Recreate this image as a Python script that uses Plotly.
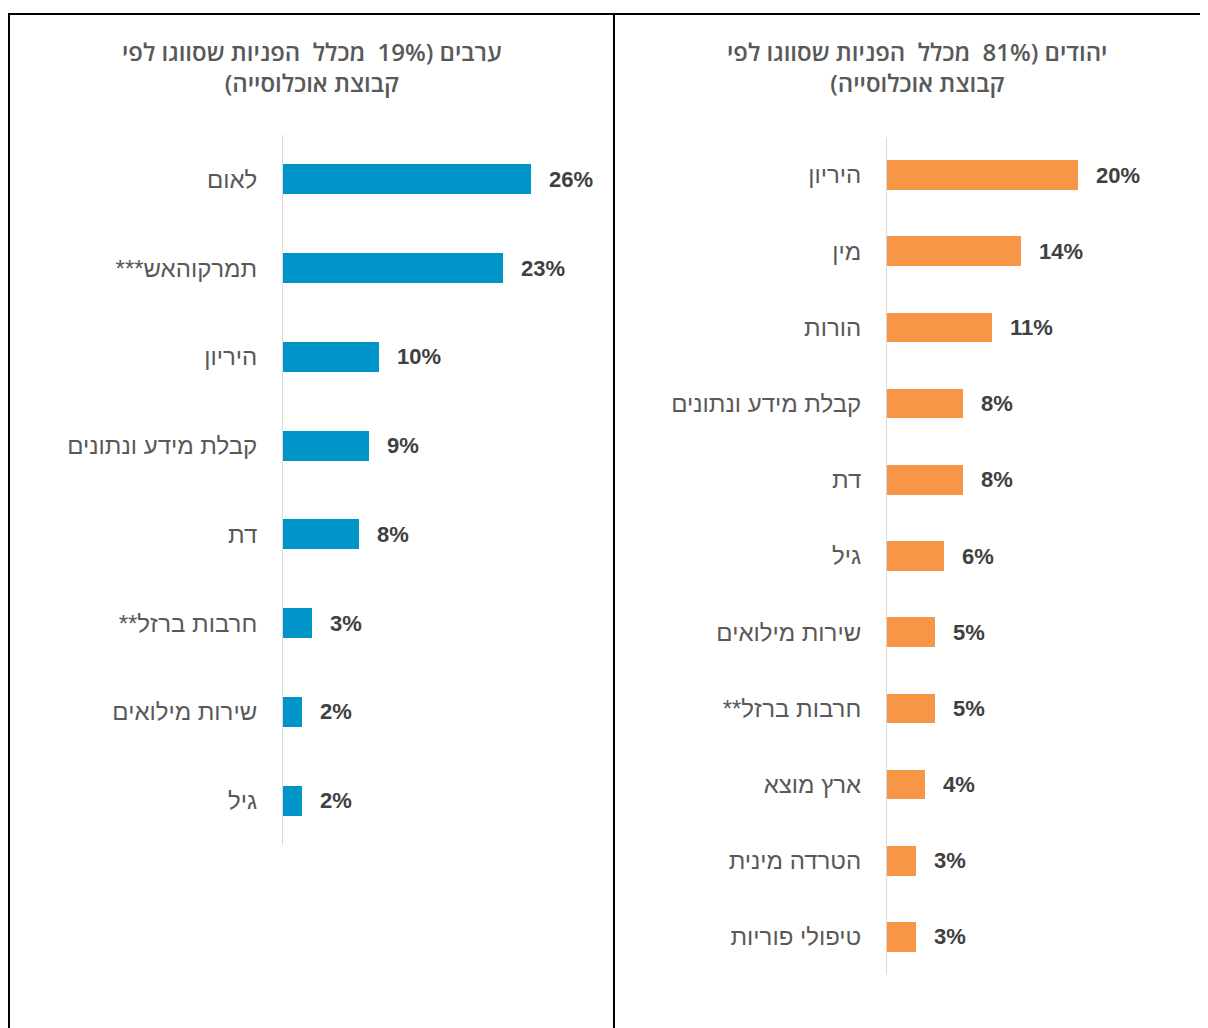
import plotly.graph_objects as go

RLM = "\u200f"

# Left panel: Arabs
arab_categories = ["לאום", "תמרקוהאש***", "היריון", "קבלת מידע ונתונים", "דת",
                   "חרבות ברזל**", "שירות מילואים", "גיל"]
arab_values = [26, 23, 10, 9, 8, 3, 2, 2]
arab_title = ["ערבים (19%  מכלל  הפניות שסווגו לפי", "קבוצת אוכלוסייה)"]

# Right panel: Jews
jew_categories = ["היריון", "מין", "הורות", "קבלת מידע ונתונים", "דת", "גיל",
                  "שירות מילואים", "חרבות ברזל**", "ארץ מוצא", "הטרדה מינית",
                  "טיפולי פוריות"]
jew_values = [20, 14, 11, 8, 8, 6, 5, 5, 4, 3, 3]
jew_title = ["יהודים (81%  מכלל  הפניות שסווגו לפי", "קבוצת אוכלוסייה)"]

OFF = 8  # page body margin
W, H = 1200, 1020
BLUE = "#0095C8"
ORANGE = "#F79646"
LABEL_GREY = "#595959"
VALUE_GREY = "#404040"
FONT = "Liberation Sans, Arial, sans-serif"

def px_x(p):
    return (p - OFF) / W

def px_y(p):
    return 1 - (p - OFF) / H

fig = go.Figure()

arab_labels = [c + RLM for c in arab_categories]
jew_labels = [c + RLM for c in jew_categories]

fig.add_trace(go.Bar(x=arab_values, y=arab_labels, orientation="h",
                     marker=dict(color=BLUE, line=dict(width=0)), width=0.34,
                     xaxis="x", yaxis="y", hoverinfo="skip", showlegend=False))
fig.add_trace(go.Bar(x=jew_values, y=jew_labels, orientation="h",
                     marker=dict(color=ORANGE, line=dict(width=0)), width=0.39,
                     xaxis="x2", yaxis="y2", hoverinfo="skip", showlegend=False))

val_font = dict(family=FONT, size=22, color=VALUE_GREY, weight="bold")
annotations = []
for v, c in zip(arab_values, arab_labels):
    annotations.append(dict(x=v, y=c, xref="x", yref="y", text=f"{v}%",
                            showarrow=False, xanchor="left", xshift=16, font=val_font))
for v, c in zip(jew_values, jew_labels):
    annotations.append(dict(x=v, y=c, xref="x2", yref="y2", text=f"{v}%",
                            showarrow=False, xanchor="left", xshift=16, font=val_font))

# Titles
title_font = dict(family="Open Sans, Liberation Sans, sans-serif", size=24, color=LABEL_GREY, weight=600)
annotations.append(dict(x=px_x(312), y=px_y(67), xref="paper", yref="paper",
                        text="<br>".join(t + RLM for t in arab_title), showarrow=False,
                        xanchor="center", yanchor="middle", align="center", font=title_font))
annotations.append(dict(x=px_x(917), y=px_y(67), xref="paper", yref="paper",
                        text="<br>".join(t + RLM for t in jew_title), showarrow=False,
                        xanchor="center", yanchor="middle", align="center", font=title_font))

scale = 9.55  # px per percent
xmax = 30
cat_font = dict(family=FONT, size=24, color=LABEL_GREY)

fig.update_layout(
    width=W, height=H,
    margin=dict(l=0, r=0, t=0, b=0),
    paper_bgcolor="white", plot_bgcolor="white",
    bargap=0,
    xaxis=dict(domain=[px_x(283), px_x(283 + scale * xmax)], range=[0, xmax],
               visible=False, fixedrange=True),
    yaxis=dict(domain=[px_y(845), px_y(135)], type="category",
               categoryorder="array", categoryarray=arab_labels,
               range=[len(arab_labels) - 0.5, -0.5],
               showline=True, linecolor="#D9D9D9", linewidth=1,
               showgrid=False, ticks="", ticklabelstandoff=20,
               tickfont=cat_font, anchor="x"),
    xaxis2=dict(domain=[px_x(887), px_x(887 + scale * xmax)], range=[0, xmax],
                visible=False, fixedrange=True, anchor="y2"),
    yaxis2=dict(domain=[px_y(975), px_y(137)], type="category",
                categoryorder="array", categoryarray=jew_labels,
                range=[len(jew_labels) - 0.5, -0.5],
                showline=True, linecolor="#D9D9D9", linewidth=1,
                showgrid=False, ticks="", ticklabelstandoff=20,
                tickfont=cat_font, anchor="x2"),
    annotations=annotations,
    shapes=[
        dict(type="line", xref="paper", yref="paper", x0=px_x(8), x1=1.0,
             y0=px_y(14), y1=px_y(14), line=dict(color="black", width=2)),
        dict(type="line", xref="paper", yref="paper", x0=px_x(9), x1=px_x(9),
             y0=px_y(14), y1=0, line=dict(color="black", width=2)),
        dict(type="line", xref="paper", yref="paper", x0=px_x(614), x1=px_x(614),
             y0=px_y(14), y1=0, line=dict(color="black", width=2)),
    ],
)

fig.write_html("out.html")
